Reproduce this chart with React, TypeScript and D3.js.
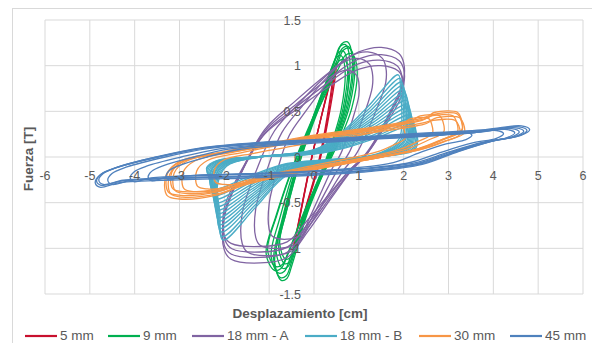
import React from "react";
import * as d3 from "d3";

// ---------- axis data ----------
const xTicks = [-6, -5, -4, -3, -2, -1, 0, 1, 2, 3, 4, 5, 6];
const yTicks = [-1.5, -1, -0.5, 0, 0.5, 1, 1.5];

const seriesNames = ["5 mm", "9 mm", "18 mm - A", "18 mm - B", "30 mm", "45 mm"];
const seriesColors = ["#C8102E", "#00B050", "#8064A2", "#4BACC6", "#F79646", "#4F81BD"];

// ---------- loop shapes (reference cycle) ----------
// each cycle: [dPos, fPos, dNeg, fNeg]
const redRef = [0.5, 1.03, -0.47, -1.02];
const redShape: [number, number][] = [
  [-0.47, -1.02], [-0.4, -0.85], [-0.05, 0.0], [0.3, 0.7], [0.45, 0.98],
  [0.5, 1.03], [0.48, 0.9], [0.15, 0.0], [-0.2, -0.6], [-0.44, -1.0],
];
const redCycles = [
  [0.5, 1.03, -0.47, -1.02],
  [0.46, 0.98, -0.45, -0.98],
  [0.42, 0.92, -0.42, -0.92],
];

const greenRef = [0.8, 1.25, -0.8, -1.3];
const greenShape: [number, number][] = [
  [-0.75, -1.32], [-0.9, -1.12], [-0.72, -0.7], [-0.33, 0.0], [0.1, 0.6], [0.5, 1.1], [0.62, 1.24],
  [0.75, 1.26], [0.85, 1.1], [0.75, 0.6], [0.35, 0.0], [-0.15, -0.6], [-0.5, -1.15], [-0.62, -1.3],
];
const greenCycles = [
  [0.8, 1.25, -0.78, -1.33],
  [0.75, 1.22, -0.8, -1.3],
  [0.85, 1.18, -0.85, -1.25],
  [0.7, 1.15, -0.75, -1.2],
  [0.9, 1.12, -0.92, -1.18],
  [0.65, 1.1, -0.7, -1.15],
  [0.82, 1.2, -0.95, -1.22],
  [0.72, 1.06, -0.68, -1.1],
];

const purpleRef = [2.0, 1.2, -2.0, -1.16];
const purpleShape: [number, number][] = [
  [-2.0, -1.02], [-2.0, -0.66], [-1.6, -0.15], [-1.1, 0.3], [-0.4, 0.62], [0.4, 0.95], [1.0, 1.15],
  [1.5, 1.2], [1.9, 1.13], [2.0, 1.03], [2.0, 0.85], [1.7, 0.5], [1.2, 0.05], [0.8, -0.17],
  [0.4, -0.44], [-0.16, -0.83], [-0.6, -1.1], [-1.2, -1.16], [-1.85, -1.12],
];
const purpleCycles = [
  [1.0, 0.95, -1.0, -0.9],
  [1.3, 1.08, -1.3, -1.0],
  [1.6, 1.15, -1.6, -1.08],
  [2.0, 1.2, -2.0, -1.16],
  [2.0, 1.12, -2.0, -1.1],
  [1.95, 1.06, -1.98, -1.04],
  [1.98, 1.0, -2.0, -0.98],
];

const cyanRef = [1.88, 0.9, -2.03, -0.91];
const cyanShape: [number, number][] = [
  [-2.03, -0.91], [-2.1, -0.6], [-2.15, -0.3], [-1.95, -0.1], [-1.2, 0.0], [0.0, 0.08], [0.5, 0.22],
  [1.2, 0.55], [1.88, 0.9], [1.93, 0.7], [1.96, 0.45], [1.9, 0.2], [1.5, 0.05], [0.5, -0.05],
  [-0.6, -0.2], [-1.3, -0.55],
];
const cyanCycles = [
  [1.88, 0.9, -2.03, -0.91],
  [1.92, 0.86, -2.05, -0.87],
  [1.95, 0.82, -2.07, -0.82],
  [1.98, 0.78, -2.09, -0.78],
  [2.0, 0.74, -2.1, -0.74],
  [2.03, 0.7, -2.12, -0.7],
  [2.05, 0.66, -2.13, -0.66],
  [2.07, 0.62, -2.15, -0.62],
  [2.09, 0.58, -2.16, -0.58],
  [2.11, 0.54, -2.18, -0.54],
  [2.13, 0.5, -2.19, -0.5],
  [2.15, 0.46, -2.21, -0.46],
  [2.18, 0.42, -2.23, -0.42],
  [2.2, 0.38, -2.25, -0.38],
  [2.22, 0.35, -2.26, -0.35],
];

const orangeRef = [3.25, 0.49, -3.28, -0.46];
const orangeShape: [number, number][] = [
  [-3.28, -0.42], [-3.3, -0.2], [-3.0, -0.05], [-2.0, 0.06], [-1.0, 0.15], [0.0, 0.24], [1.5, 0.34],
  [2.5, 0.44], [2.7, 0.49], [3.2, 0.49], [3.28, 0.42], [3.3, 0.3], [2.9, 0.2], [2.4, 0.1],
  [1.5, 0.0], [0.0, -0.14], [-1.5, -0.3], [-2.2, -0.42], [-3.0, -0.46],
];
const orangeCycles = [
  [2.0, 0.33, -2.2, -0.3],
  [2.6, 0.42, -2.6, -0.35],
  [2.85, 0.45, -2.9, -0.38],
  [3.15, 0.45, -3.1, -0.4],
  [3.25, 0.49, -3.28, -0.46],
  [3.25, 0.47, -3.2, -0.44],
  [3.3, 0.43, -3.25, -0.42],
  [3.2, 0.4, -3.15, -0.38],
];

const blueRef = [4.75, 0.34, -4.85, -0.33];
const blueShape: [number, number][] = [
  [-4.85, -0.28], [-4.75, -0.2], [-4.4, -0.12], [-3.5, 0.0], [-2.5, 0.1], [-1.2, 0.16], [0.0, 0.19],
  [2.0, 0.25], [3.8, 0.3], [4.6, 0.34], [4.78, 0.3], [4.6, 0.24], [4.0, 0.18], [3.2, 0.06],
  [2.4, -0.08], [1.2, -0.16], [0.0, -0.2], [-1.5, -0.23], [-3.0, -0.25], [-4.3, -0.28], [-4.75, -0.33],
];
const blueCycles = [
  [3.5, 0.27, -3.3, -0.25],
  [4.2, 0.29, -3.7, -0.26],
  [4.45, 0.3, -4.1, -0.27],
  [4.55, 0.31, -4.6, -0.3],
  [4.65, 0.32, -4.8, -0.3],
  [4.72, 0.33, -4.85, -0.31],
  [4.78, 0.34, -4.88, -0.33],
];

const seriesShapes = [redShape, greenShape, purpleShape, cyanShape, orangeShape, blueShape];
const seriesRefs = [redRef, greenRef, purpleRef, cyanRef, orangeRef, blueRef];
const seriesCycles = [redCycles, greenCycles, purpleCycles, cyanCycles, orangeCycles, blueCycles];

function cyclePoints(shape: [number, number][], ref: number[], cyc: number[]): [number, number][] {
  return shape.map(([d, f]) => [
    d >= 0 ? (d * cyc[0]) / ref[0] : (d * cyc[2]) / ref[2],
    f >= 0 ? (f * cyc[1]) / ref[1] : (f * cyc[3]) / ref[3],
  ]);
}

const W = 592;
const H = 343;
const FONT = "'Liberation Sans', Arial, sans-serif";

export default function App() {
  const x = d3.scaleLinear().domain([-6, 6]).range([45, 583]);
  const y = d3.scaleLinear().domain([-1.5, 1.5]).range([294, 20]);
  const line = d3
    .line<[number, number]>()
    .x((p) => x(p[0]))
    .y((p) => y(p[1]))
    .curve(d3.curveCatmullRomClosed.alpha(0.5));

  const legendX = [25, 108, 192, 305, 419, 510];

  return (
    <svg
      width={W}
      height={H}
      style={{ position: "absolute", left: 0, top: 0, background: "#fff" }}
      fontFamily={FONT}
    >
      <rect x={0} y={0} width={W} height={H} fill="#fff" />
      <rect x={12.5} y={8.5} width={620} height={400} fill="none" stroke="#d9d9d9" />
      {/* grid */}
      {xTicks.map((t) => (
        <line key={"gx" + t} x1={x(t)} x2={x(t)} y1={y(1.5)} y2={y(-1.5)} stroke="#d9d9d9" strokeWidth={1} />
      ))}
      {yTicks.map((t) => (
        <line key={"gy" + t} x1={x(-6)} x2={x(6)} y1={y(t)} y2={y(t)} stroke="#d9d9d9" strokeWidth={1} />
      ))}
      {/* series */}
      {seriesNames.map((name, i) => (
        <g key={name} fill="none" stroke={seriesColors[i]} strokeWidth={1.3} strokeLinejoin="round">
          {seriesCycles[i].map((cyc, j) => (
            <path key={j} d={line(cyclePoints(seriesShapes[i], seriesRefs[i], cyc)) || ""} />
          ))}
        </g>
      ))}
      {/* tick labels */}
      {xTicks.map((t) => (
        <text key={"tx" + t} x={x(t)} y={y(0) + 23} textAnchor="middle" fontSize={12.5} fill="#595959">
          {t}
        </text>
      ))}
      {yTicks.map((t) => (
        <text key={"ty" + t} x={x(0) - 13} y={y(t) + 4.5} textAnchor="end" fontSize={12.5} fill="#595959">
          {t}
        </text>
      ))}
      {/* axis titles */}
      <text x={300} y={318} textAnchor="middle" fontSize={13.5} fontWeight="bold" fill="#595959">
        Desplazamiento [cm]
      </text>
      <text
        transform={`translate(33,159) rotate(-90)`}
        textAnchor="middle"
        fontSize={13.5}
        fontWeight="bold"
        fill="#595959"
      >
        Fuerza [T]
      </text>
      {/* legend */}
      {seriesNames.map((name, i) => (
        <g key={"lg" + name}>
          <line x1={legendX[i]} x2={legendX[i] + 32} y1={336} y2={336} stroke={seriesColors[i]} strokeWidth={2.2} />
          <text x={legendX[i] + 35} y={339.5} fontSize={13.5} fill="#595959">
            {name}
          </text>
        </g>
      ))}
    </svg>
  );
}
